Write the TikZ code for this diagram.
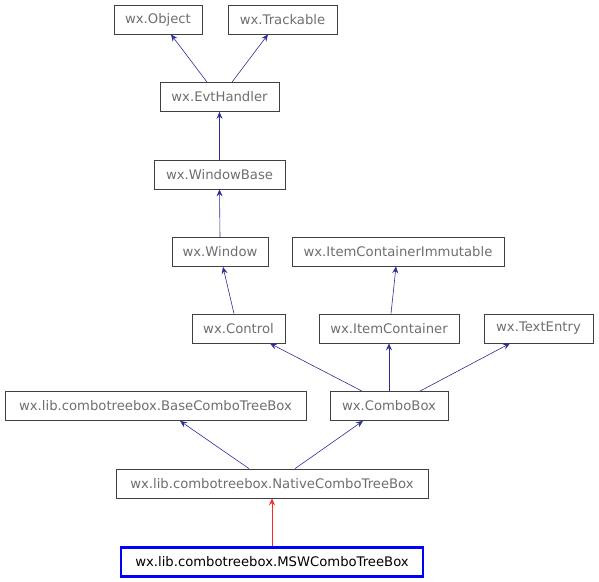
\documentclass[tikz,border=0pt]{standalone}
\usepackage{fontspec}
\setmainfont{DejaVu Sans}
\usetikzlibrary{arrows.meta}
\definecolor{edgeblue}{RGB}{45,45,150}
\definecolor{txtgray}{RGB}{110,110,110}

\begin{document}
\begin{tikzpicture}[x=1pt, y=-1pt,
        cls/.style={draw=black!75, line width=0.8pt, minimum height=29pt, inner sep=0pt,
            text=txtgray, font=\fontsize{13.2}{15}\selectfont},
        me/.style={cls, draw=blue, line width=2.4pt, text=black},
        inh/.style={edgeblue, line width=0.6pt, -{Stealth[length=7pt, width=6pt, inset=2.5pt]}},
        self/.style={inh, red!85}]
        \useasboundingbox (0,0) rectangle (599,581);
        % Classes, top row first
        \node[cls, minimum width=88pt] (obj) at (158,19.5) {wx.Object};
        \node[cls, minimum width=109pt] (track) at (282.5,19.5) {wx.Trackable};
        \node[cls, minimum width=119pt] (evt) at (219.5,97) {wx.EvtHandler};
        \node[cls, minimum width=131pt] (wbase) at (219.5,174.5) {wx.WindowBase};
        \node[cls, minimum width=96pt] (win) at (220,252) {wx.Window};
        \node[cls, minimum width=212pt] (ici) at (398,251.5) {wx.ItemContainerImmutable};
        \node[cls, minimum width=93pt] (ctrl) at (238.5,328.5) {wx.Control};
        \node[cls, minimum width=140pt] (ic) at (389,328.5) {wx.ItemContainer};
        \node[cls, minimum width=109pt] (te) at (538.5,328.5) {wx.TextEntry};
        \node[cls, minimum width=301pt] (base) at (155.5,406) {wx.lib.combotreebox.BaseComboTreeBox};
        \node[cls, minimum width=118pt] (combo) at (389,406) {wx.ComboBox};
        \node[cls, minimum width=312pt] (native) at (272,483.5) {wx.lib.combotreebox.NativeComboTreeBox};
        \node[me, minimum width=302pt] (msw) at (272,562) {wx.lib.combotreebox.MSWComboTreeBox};
        % Inheritance arrows
        \draw[inh] ([xshift=-12.5pt]evt.north) -- ([xshift=13pt]obj.south);
        \draw[inh] ([xshift=12.5pt]evt.north) -- ([xshift=-14.5pt]track.south);
        \draw[inh] (wbase.north) -- (evt.south);
        \draw[inh] (win.north) -- (wbase.south);
        \draw[inh] ([xshift=-4.5pt]ctrl.north) -- ([xshift=3pt]win.south);
        \draw[inh] ([xshift=2pt]ic.north) -- ([xshift=-2pt]ici.south);
        \draw[inh] ([xshift=-27pt]combo.north) -- ([xshift=31.5pt]ctrl.south);
        \draw[inh] (combo.north) -- (ic.south);
        \draw[inh] ([xshift=31pt]combo.north) -- ([xshift=-28.5pt]te.south);
        \draw[inh] ([xshift=-23pt]native.north) -- ([xshift=24.5pt]base.south);
        \draw[inh] ([xshift=23pt]native.north) -- ([xshift=-26pt]combo.south);
        \draw[self] (msw.north) -- (native.south);
\end{tikzpicture}
\end{document}
